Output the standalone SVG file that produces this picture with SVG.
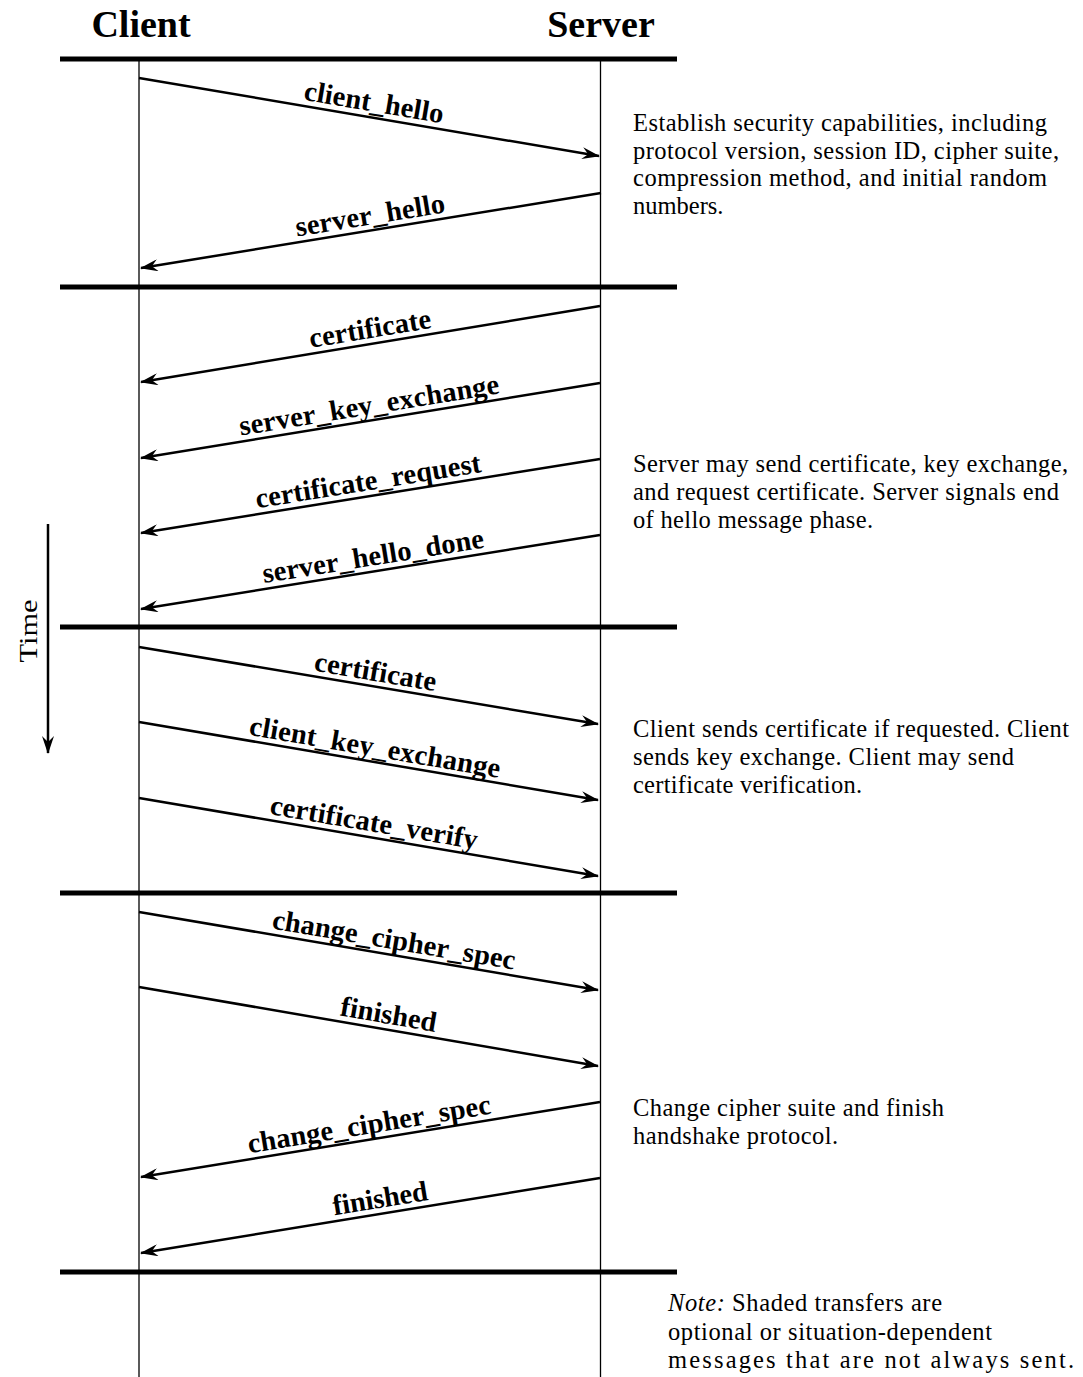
<svg xmlns="http://www.w3.org/2000/svg" width="1083" height="1377" viewBox="0 0 1083 1377">
<style>
.title{font-family:"Liberation Serif",serif;font-weight:bold;font-size:38px;fill:#000;text-anchor:middle}
.lbl{font-family:"Liberation Serif",serif;font-weight:bold;font-size:28.5px;fill:#000;text-anchor:middle}
.desc{font-family:"Liberation Serif",serif;font-size:24.5px;fill:#000}
.phase{stroke:#000;stroke-width:5;fill:none}
.life{stroke:#000;stroke-width:1.3;fill:none}
.msg{stroke:#000;stroke-width:2.5;fill:none;marker-end:url(#ah)}
</style>
<defs>
<marker id="ah" markerUnits="userSpaceOnUse" viewBox="0 0 18 12" refX="17" refY="6" markerWidth="18" markerHeight="12" orient="auto">
<path d="M0,0 L18,6 L0,12 L6,6 Z" fill="#000"/>
</marker>
</defs>
<rect width="1083" height="1377" fill="#fff"/>

<g id="titles">
<text class="title" x="141" y="37">Client</text>
<text class="title" x="601" y="37">Server</text>
</g>

<g id="lifelines">
<line class="life" x1="139" y1="59" x2="139" y2="1377"/>
<line class="life" x1="600.5" y1="59" x2="600.5" y2="1377"/>
</g>

<g id="phases">
<line class="phase" x1="60" y1="59" x2="677" y2="59"/>
<line class="phase" x1="60" y1="287" x2="677" y2="287"/>
<line class="phase" x1="60" y1="627" x2="677" y2="627"/>
<line class="phase" x1="60" y1="893" x2="677" y2="893"/>
<line class="phase" x1="60" y1="1272" x2="677" y2="1272"/>
</g>

<g id="time">
<line class="msg" x1="48" y1="524" x2="48" y2="753"/>
<text class="desc" transform="translate(37,631) rotate(-90)" text-anchor="middle" font-size="30" textLength="63" lengthAdjust="spacingAndGlyphs">Time</text>
</g>

<g id="connectors">
<line class="msg" x1="139" y1="78" x2="599" y2="156"/>
<line class="msg" x1="601" y1="193" x2="141" y2="268"/>
<line class="msg" x1="600" y1="306" x2="141" y2="382"/>
<line class="msg" x1="600" y1="383" x2="141" y2="458"/>
<line class="msg" x1="600" y1="459" x2="141" y2="533"/>
<line class="msg" x1="600" y1="535" x2="141" y2="609"/>
<line class="msg" x1="139" y1="647" x2="598" y2="724"/>
<line class="msg" x1="139" y1="722" x2="598" y2="800"/>
<line class="msg" x1="139" y1="798" x2="598" y2="876"/>
<line class="msg" x1="139" y1="912" x2="598" y2="990"/>
<line class="msg" x1="139" y1="987" x2="598" y2="1066"/>
<line class="msg" x1="600" y1="1102" x2="141" y2="1177"/>
<line class="msg" x1="600" y1="1178" x2="141" y2="1253"/>
</g>

<g id="labels">
<text class="lbl" transform="translate(371.5,117.4) rotate(9.62)" y="-6" textLength="141" lengthAdjust="spacing">client_hello</text>
<text class="lbl" transform="translate(372.5,230.3) rotate(-9.26)" y="-6" textLength="151" lengthAdjust="spacing">server_hello</text>
<text class="lbl" transform="translate(372.5,343.7) rotate(-9.40)" y="-6" textLength="123" lengthAdjust="spacing">certificate</text>
<text class="lbl" transform="translate(371.5,420.3) rotate(-9.28)" y="-6" textLength="263" lengthAdjust="spacing">server_key_exchange</text>
<text class="lbl" transform="translate(370.5,496.0) rotate(-9.16)" y="-6" textLength="228" lengthAdjust="spacing">certificate_request</text>
<text class="lbl" transform="translate(375.5,571.2) rotate(-9.16)" y="-6" textLength="224" lengthAdjust="spacing">server_hello_done</text>
<text class="lbl" transform="translate(373,686.8) rotate(9.64)" y="-6" textLength="123" lengthAdjust="spacing">certificate</text>
<text class="lbl" transform="translate(372.5,762.2) rotate(9.77)" y="-6" textLength="254" lengthAdjust="spacing">client_key_exchange</text>
<text class="lbl" transform="translate(371.5,837.5) rotate(9.64)" y="-6" textLength="210" lengthAdjust="spacing">certificate_verify</text>
<text class="lbl" transform="translate(391.5,954.9) rotate(9.64)" y="-6" textLength="246" lengthAdjust="spacing">change_cipher_spec</text>
<text class="lbl" transform="translate(386,1029.5) rotate(9.77)" y="-6" textLength="97" lengthAdjust="spacing">finished</text>
<text class="lbl" transform="translate(371.5,1139.3) rotate(-9.28)" y="-6" textLength="246" lengthAdjust="spacing">change_cipher_spec</text>
<text class="lbl" transform="translate(382.5,1213.5) rotate(-9.28)" y="-6" textLength="96" lengthAdjust="spacing">finished</text>
</g>

<g id="desc-hello">
<text class="desc" x="633" y="131" textLength="414" lengthAdjust="spacing">Establish security capabilities, including</text>
<text class="desc" x="633" y="158.5" textLength="426" lengthAdjust="spacing">protocol version, session ID, cipher suite,</text>
<text class="desc" x="633" y="186" textLength="414" lengthAdjust="spacing">compression method, and initial random</text>
<text class="desc" x="633" y="213.5">numbers.</text>
</g>

<g id="desc-server">
<text class="desc" x="633" y="472" textLength="435" lengthAdjust="spacing">Server may send certificate, key exchange,</text>
<text class="desc" x="633" y="500" textLength="426" lengthAdjust="spacing">and request certificate. Server signals end</text>
<text class="desc" x="633" y="528" textLength="240" lengthAdjust="spacing">of hello message phase.</text>
</g>

<g id="desc-client">
<text class="desc" x="633" y="737" textLength="436" lengthAdjust="spacing">Client sends certificate if requested. Client</text>
<text class="desc" x="633" y="765" textLength="381" lengthAdjust="spacing">sends key exchange. Client may send</text>
<text class="desc" x="633" y="793" textLength="229" lengthAdjust="spacing">certificate verification.</text>
</g>

<g id="desc-finish">
<text class="desc" x="633" y="1116" textLength="311" lengthAdjust="spacing">Change cipher suite and finish</text>
<text class="desc" x="633" y="1144" textLength="205" lengthAdjust="spacing">handshake protocol.</text>
</g>

<g id="note">
<text class="desc" x="668" y="1311" textLength="274" lengthAdjust="spacing"><tspan font-style="italic">Note:</tspan> Shaded transfers are</text>
<text class="desc" x="668" y="1340" textLength="324" lengthAdjust="spacing">optional or situation-dependent</text>
<text class="desc" x="668" y="1368" textLength="406" lengthAdjust="spacing">messages that are not always sent.</text>
</g>
</svg>
